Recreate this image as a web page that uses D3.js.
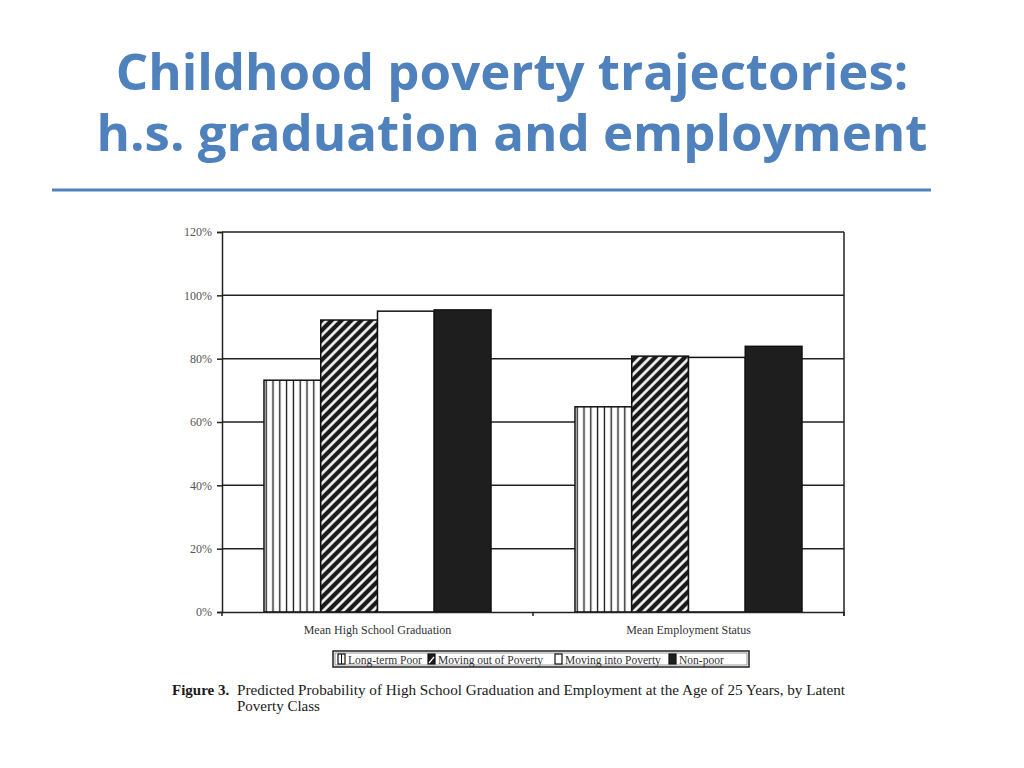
<!DOCTYPE html>
<html>
<head>
<meta charset="utf-8">
<script src="https://cdn.jsdelivr.net/npm/d3@7"></script>
<style>
  body { margin: 0; background: #fff; }
  svg { display: block; }
</style>
</head>
<body>
<div class="canvas"></div>
<script>
// data
const categories = ['Mean High School Graduation', 'Mean Employment Status'];
const seriesNames = ['Long-term Poor', 'Moving out of Poverty', 'Moving into Poverty', 'Non-poor'];
const gradValues = [73.2, 92.2, 95.0, 95.4];
const employValues = [64.8, 80.8, 80.4, 83.9];
const yTicks = [0, 20, 40, 60, 80, 100, 120];

const valuesByCategory = [gradValues, employValues];

const svg = d3.select('.canvas')
    .append('svg')
    .attr('width', 1024)
    .attr('height', 768);

// title, two separate lines
const blue = '#4f81bd';
const titleLines = ['Childhood poverty trajectories:', 'h.s. graduation and employment'];
svg.selectAll('.title')
    .data(titleLines)
    .enter()
    .append('text')
    .attr('x', 512)
    .attr('y', (d, i) => 90 + i * 61)
    .attr('text-anchor', 'middle')
    .attr('fill', blue)
    .style('font-family', '"Open Sans", sans-serif')
    .style('font-weight', 700)
    .style('font-size', '51px')
    .text(d => d);

svg.append('line')
    .attr('x1', 52).attr('x2', 931)
    .attr('y1', 190).attr('y2', 190)
    .attr('stroke', blue)
    .attr('stroke-width', 3);

// patterns
const defs = svg.append('defs');

const vert = defs.append('pattern')
    .attr('id', 'vert')
    .attr('patternUnits', 'userSpaceOnUse')
    .attr('width', 6.8).attr('height', 10);
vert.append('rect').attr('width', 6.8).attr('height', 10).attr('fill', '#fff');
vert.append('line')
    .attr('x1', 3.4).attr('x2', 3.4).attr('y1', 0).attr('y2', 10)
    .attr('stroke', '#111').attr('stroke-width', 1.3);

const diag = defs.append('pattern')
    .attr('id', 'diag')
    .attr('patternUnits', 'userSpaceOnUse')
    .attr('width', 7).attr('height', 10)
    .attr('patternTransform', 'rotate(45)');
diag.append('rect').attr('width', 7).attr('height', 10).attr('fill', '#1a1a1a');
diag.append('line')
    .attr('x1', 3.5).attr('x2', 3.5).attr('y1', 0).attr('y2', 10)
    .attr('stroke', '#fff').attr('stroke-width', 2.6);

const fills = ['url(#vert)', 'url(#diag)', '#fff', '#1e1e1e'];

// chart area
const margin = { top: 232, left: 222 };
const graphWidth = 844 - 222;
const graphHeight = 612 - 232;

const graph = svg.append('g')
    .attr('transform', `translate(${margin.left},${margin.top})`);

const y = d3.scaleLinear()
    .domain([0, 120])
    .range([graphHeight, 0]);

const x0 = d3.scaleBand()
    .domain(categories)
    .range([0, graphWidth]);

const x1 = d3.scaleBand()
    .domain(seriesNames)
    .range([0, x0.bandwidth()])
    .paddingInner(0)
    .paddingOuter(0.74);

const ink = '#222';

// gridlines
graph.selectAll('.grid')
    .data(yTicks.filter(d => d > 0))
    .enter()
    .append('line')
    .attr('x1', 0).attr('x2', graphWidth)
    .attr('y1', d => y(d)).attr('y2', d => y(d))
    .attr('stroke', ink)
    .attr('stroke-width', 1.5);

// right border
graph.append('line')
    .attr('x1', graphWidth).attr('x2', graphWidth)
    .attr('y1', 0).attr('y2', graphHeight + 4)
    .attr('stroke', ink)
    .attr('stroke-width', 1.5);

// bars
const groups = graph.selectAll('.group')
    .data(categories)
    .enter()
    .append('g')
    .attr('transform', d => `translate(${x0(d)},0)`);

groups.selectAll('rect')
    .data((d, i) => valuesByCategory[i].map((v, j) => ({ name: seriesNames[j], value: v, idx: j })))
    .enter()
    .append('rect')
    .attr('x', d => x1(d.name))
    .attr('width', x1.bandwidth())
    .attr('y', d => y(d.value))
    .attr('height', d => graphHeight - y(d.value))
    .attr('fill', d => fills[d.idx])
    .attr('stroke', '#111')
    .attr('stroke-width', 1.5);

// y axis
const yAxis = d3.axisLeft(y)
    .tickValues(yTicks)
    .tickSize(5)
    .tickPadding(5)
    .tickFormat(d => d + '%');

const yAxisGroup = graph.append('g').call(yAxis);
yAxisGroup.select('.domain').attr('stroke', ink).attr('stroke-width', 1.5);
yAxisGroup.selectAll('line').attr('stroke', ink).attr('stroke-width', 1.5);
yAxisGroup.selectAll('text')
    .attr('fill', '#555')
    .style('font-family', '"Liberation Serif", serif')
    .style('font-size', '12px');

// x axis
const xAxis = d3.axisBottom(x0)
    .tickSize(0)
    .tickPadding(13);

const xAxisGroup = graph.append('g')
    .attr('transform', `translate(0,${graphHeight})`)
    .call(xAxis);
xAxisGroup.select('.domain').attr('stroke', ink).attr('stroke-width', 1.5);
xAxisGroup.selectAll('text')
    .attr('fill', '#333')
    .style('font-family', '"Liberation Serif", serif')
    .style('font-size', '12px');

// boundary ticks between categories
const bounds = categories.map(c => x0(c)).concat([x0.range()[1]]);
xAxisGroup.selectAll('.bound')
    .data(bounds)
    .enter()
    .append('line')
    .attr('x1', d => d).attr('x2', d => d)
    .attr('y1', 0).attr('y2', 4)
    .attr('stroke', ink)
    .attr('stroke-width', 1.5);

// legend
const legend = svg.append('g').attr('transform', 'translate(333,651)');
legend.append('rect')
    .attr('width', 416).attr('height', 16)
    .attr('fill', '#fff')
    .attr('stroke', '#222')
    .attr('stroke-width', 1.5);
legend.append('rect')
    .attr('x', 2).attr('y', 2)
    .attr('width', 412).attr('height', 12)
    .attr('fill', 'none')
    .attr('stroke', '#555')
    .attr('stroke-width', 0.6);

const legendX = [5, 95, 222, 336];
const item = legend.selectAll('.item')
    .data(seriesNames)
    .enter()
    .append('g')
    .attr('transform', (d, i) => `translate(${legendX[i]},3)`);

item.append('rect')
    .attr('width', 7).attr('height', 10)
    .attr('fill', (d, i) => i === 0 ? '#fff' : i === 1 ? '#1a1a1a' : fills[i])
    .attr('stroke', '#111')
    .attr('stroke-width', 1.2);
item.filter((d, i) => i === 0)
    .append('line')
    .attr('x1', 3.5).attr('x2', 3.5).attr('y1', 0).attr('y2', 10)
    .attr('stroke', '#111').attr('stroke-width', 1);
item.filter((d, i) => i === 1)
    .append('line')
    .attr('x1', 1).attr('x2', 6).attr('y1', 9).attr('y2', 3)
    .attr('stroke', '#fff').attr('stroke-width', 1.2);

item.append('text')
    .attr('x', 10)
    .attr('y', 9.5)
    .attr('fill', '#333')
    .style('font-family', '"Liberation Serif", serif')
    .style('font-size', '11.5px')
    .text(d => d);

// caption
const caption = svg.append('g')
    .style('font-family', '"Liberation Serif", serif')
    .style('font-size', '15px')
    .attr('fill', '#1a1a1a');
caption.append('text')
    .attr('x', 172).attr('y', 695)
    .style('font-weight', 700)
    .text('Figure 3.');
caption.append('text')
    .attr('x', 237).attr('y', 695)
    .attr('textLength', 608)
    .attr('lengthAdjust', 'spacingAndGlyphs')
    .text('Predicted Probability of High School Graduation and Employment at the Age of 25 Years, by Latent');
caption.append('text')
    .attr('x', 237).attr('y', 711)
    .text('Poverty Class');
</script>
</body>
</html>
